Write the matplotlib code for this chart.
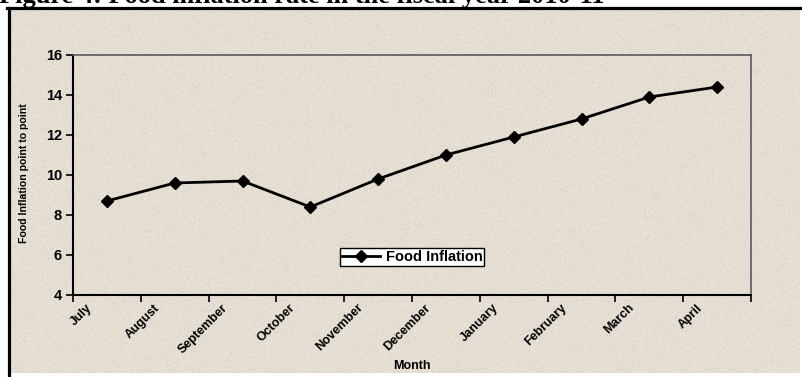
import numpy as np
import matplotlib
matplotlib.use("Agg")
import matplotlib.pyplot as plt
from matplotlib.lines import Line2D
from matplotlib.transforms import ScaledTranslation

# Monthly point-to-point food inflation, fiscal year 2010-11
months = ["July", "August", "September", "October", "November",
          "December", "January", "February", "March", "April"]
food_inflation = [8.7, 9.6, 9.7, 8.4, 9.8, 11.0, 11.9, 12.8, 13.9, 14.4]
y_ticks = [4, 6, 8, 10, 12, 14, 16]

title = "Figure 4: Food inflation rate in the fiscal year 2010-11"
series_name = "Food Inflation"
x_title = "Month"
y_title = "Food Inflation point to point"

W, H, DPI = 802, 377, 100
fig = plt.figure(figsize=(W / DPI, H / DPI), dpi=DPI, facecolor="white")

def fx(px):
    return px / W

def fy(py):
    return 1 - py / H

# textured beige chart background
bg = fig.add_axes([fx(10), fy(373), fx(790), 364 / H], zorder=0)
rng = np.random.default_rng(11)
base = np.array([228, 222, 211], dtype=float) / 255
tex = np.ones((364, 790, 3)) * base
tex += rng.normal(0, 0.012, (364, 790, 1))
spots = rng.random((364, 790)) < 0.02
tex[spots] -= 0.06
bg.imshow(np.clip(tex, 0, 1), aspect="auto", interpolation="nearest")
bg.set_axis_off()

# outer frame (top and left edges)
fig.add_artist(Line2D([fx(7), fx(802)], [fy(7.5), fy(7.5)], color="black",
                      lw=2.3, transform=fig.transFigure, zorder=5))
fig.add_artist(Line2D([fx(8.5), fx(8.5)], [fy(7.5), fy(377)], color="black",
                      lw=2.3, transform=fig.transFigure, zorder=5))

fig.text(fx(-1), fy(3.5), title, fontsize=19, fontweight="bold",
         family="Liberation Serif", va="baseline", ha="left", zorder=5)

ax = fig.add_axes([fx(73), fy(295), fx(678), 240 / H], zorder=2)
ax.set_facecolor("none")

x = np.arange(len(months))
ax.plot(x, food_inflation, color="black", lw=2.0, marker="D", markersize=6,
        label=series_name, zorder=3)

ax.set_xlim(-0.5, len(months) - 0.5)
ax.set_ylim(y_ticks[0], y_ticks[-1])
ax.set_yticks(y_ticks)
ax.set_yticklabels([str(v) for v in y_ticks], fontsize=10.5, fontweight="bold",
                   family="Liberation Sans")

ax.set_xticks(np.arange(-0.5, len(months), 1.0))
ax.set_xticklabels([])
ax.set_xticks(x, months, minor=True)
ax.tick_params(axis="x", which="major", length=5, width=1.2, direction="out")
ax.tick_params(axis="x", which="minor", length=0, pad=8)
ax.tick_params(axis="y", length=5, width=1.2, direction="out", pad=3)

offset = ScaledTranslation(-17 / DPI, 0, fig.dpi_scale_trans)
for lab in ax.get_xticklabels(minor=True):
    lab.set_rotation(45)
    lab.set_ha("right")
    lab.set_va("center")
    lab.set_rotation_mode("anchor")
    lab.set_fontsize(9)
    lab.set_fontweight("bold")
    lab.set_family("Liberation Sans")
    lab.set_transform(lab.get_transform() + offset)

for side in ("left", "bottom"):
    ax.spines[side].set_color("black")
    ax.spines[side].set_linewidth(1.5)
for side in ("top", "right"):
    ax.spines[side].set_color("#5a5a5a")
    ax.spines[side].set_linewidth(1.2)

fig.text(fx(412), fy(366), x_title, fontsize=9, fontweight="bold",
         family="Liberation Sans", ha="center", va="center")
fig.text(fx(24), fy(173), y_title, fontsize=7.6, fontweight="bold",
         family="Liberation Sans", rotation=90, ha="center", va="center")

leg = ax.legend(loc="center", bbox_to_anchor=(0.5, 0.158), frameon=True,
                fancybox=False, edgecolor="black", facecolor="white",
                framealpha=1, handlelength=2.6, handletextpad=0.4,
                borderpad=0.15, prop={"family": "Liberation Sans",
                                      "weight": "bold", "size": 10.5})
leg.get_frame().set_linewidth(1.0)

fig.savefig("out.png", dpi=DPI, facecolor="white")
